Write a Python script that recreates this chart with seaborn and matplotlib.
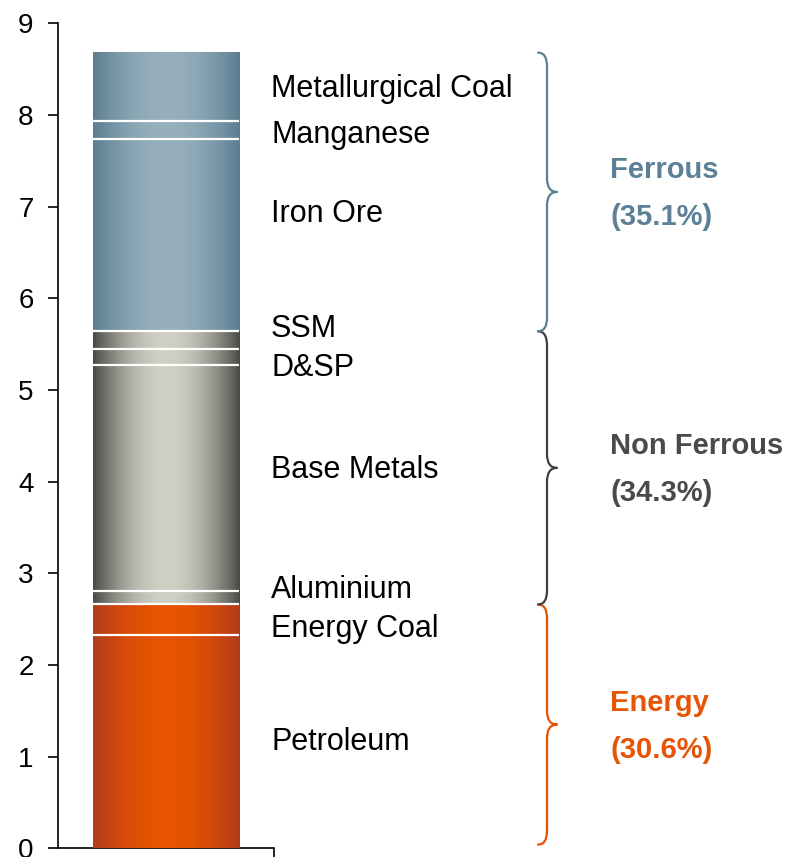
import numpy as np
import pandas as pd
import matplotlib
matplotlib.use("Agg")
import matplotlib.pyplot as plt
import matplotlib.transforms as mtransforms
from matplotlib.path import Path
from matplotlib.patches import PathPatch
import seaborn as sns

# ---------------- data ----------------
segments = ["Petroleum", "Energy Coal", "Aluminium", "Base Metals", "D&SP",
            "SSM", "Iron Ore", "Manganese", "Metallurgical Coal"]
values = [2.33, 0.33, 0.15, 2.46, 0.18, 0.19, 2.10, 0.19, 0.75]
segment_groups = ["Energy", "Energy", "Non Ferrous", "Non Ferrous", "Non Ferrous",
                  "Non Ferrous", "Ferrous", "Ferrous", "Ferrous"]
group_names = ["Energy", "Non Ferrous", "Ferrous"]
group_shares = ["(30.6%)", "(34.3%)", "(35.1%)"]
y_ticks = [0, 1, 2, 3, 4, 5, 6, 7, 8, 9]

# label baselines (positions, data units)
label_y = [1.07, 2.31, 2.73, 4.04, 5.15, 5.58, 6.83, 7.69, 8.20]

# ---------------- styles ----------------
group_edge = {"Ferrous": "#5B7D90", "Non Ferrous": "#474944", "Energy": "#B03A1C"}
group_center = {"Ferrous": "#96B0BD", "Non Ferrous": "#D0D1C5", "Energy": "#E85400"}
group_text = {"Ferrous": "#5C8096", "Non Ferrous": "#4A4A4A", "Energy": "#E65408"}
group_brace = {"Ferrous": "#5B7F95", "Non Ferrous": "#404040", "Energy": "#E65100"}

sns.set_style("white")
plt.rcParams["font.family"] = ["Liberation Sans", "DejaVu Sans"]

W, H = 802, 857
fig = plt.figure(figsize=(W / 100, H / 100), dpi=100)
ax = fig.add_axes([58 / W, 8.7 / H, 216 / W, 825 / H])

tops = np.cumsum(values)
bottoms = tops - np.array(values)

df = pd.DataFrame({"bar": ["Total"] * len(segments), "segment": segments,
                   "top": tops, "group": segment_groups})
order = list(df.sort_values("top", ascending=False)["segment"])
palette = {s: group_edge[g] for s, g in zip(segments, segment_groups)}
sns.barplot(data=df, x="bar", y="top", hue="segment", hue_order=order,
            palette=palette, dodge=False, width=0.8, legend=False,
            linewidth=0, ax=ax, zorder=2)

bar = ax.patches[0]
x0, bw = bar.get_x(), bar.get_width()

# gradient overlays
t = np.linspace(0, 1, 300)
w = np.sin(np.pi * t) ** 0.9
for s, g, b, tp in zip(segments, segment_groups, bottoms, tops):
    e = np.array(matplotlib.colors.to_rgb(group_edge[g]))
    c = np.array(matplotlib.colors.to_rgb(group_center[g]))
    img = (e[None, :] * (1 - w[:, None]) + c[None, :] * w[:, None])[None, :, :]
    ax.imshow(img, extent=[x0, x0 + bw, b, tp], aspect="auto",
              interpolation="bilinear", zorder=3)

# white separators
ax.hlines(tops[:-1], x0, x0 + bw, color="white", lw=1.6, zorder=4)

ax.set_ylim(0, 9)
ax.set_xlim(-0.593, 0.590)
ax.set_yticks(y_ticks)
ax.set_yticklabels([str(v) for v in y_ticks])
ax.set_xticks([0.590])
ax.set_xticklabels([""])
ax.set_xlabel("")
ax.set_ylabel("")
for sp in ["top", "right"]:
    ax.spines[sp].set_visible(False)
for sp in ["left", "bottom"]:
    ax.spines[sp].set_color("black")
    ax.spines[sp].set_linewidth(1.2)
ax.tick_params(axis="y", direction="out", length=7.5, width=1.2, color="black",
               labelsize=20, labelcolor="black", pad=10, left=True)
ax.tick_params(axis="x", direction="out", length=7, width=1.2, color="black",
               bottom=True)

# segment labels
tr_lab = mtransforms.blended_transform_factory(fig.transFigure, ax.transData)
for s, ly in zip(segments, label_y):
    ax.text(271 / W, ly, s, transform=tr_lab, fontsize=22, color="black",
            ha="left", va="baseline", clip_on=False)

# braces + group labels
xe, xm, xt = 538 / W, 547 / W, 557 / W
r = 0.15
for g, share in zip(group_names, group_shares):
    idx = [i for i, sg in enumerate(segment_groups) if sg == g]
    y1 = tops[idx[-1]]
    y0 = bottoms[idx[0]] + (0.04 if bottoms[idx[0]] == 0 else 0)
    m = (y0 + y1) / 2
    verts = [(xe, y1), (xm, y1), (xm, y1 - r), (xm, m + r), (xm, m), (xt, m),
             (xm, m), (xm, m - r), (xm, y0 + r), (xm, y0), (xe, y0)]
    codes = [Path.MOVETO, Path.CURVE3, Path.CURVE3, Path.LINETO, Path.CURVE3,
             Path.CURVE3, Path.CURVE3, Path.CURVE3, Path.LINETO, Path.CURVE3,
             Path.CURVE3]
    patch = PathPatch(Path(verts, codes), transform=tr_lab, fill=False,
                      edgecolor=group_brace[g], lw=1.6, clip_on=False,
                      capstyle="round", joinstyle="round")
    ax.add_patch(patch)
    ax.annotate(g, xy=(610 / W, m), xycoords=tr_lab, xytext=(0, 14),
                textcoords="offset pixels", fontsize=21, fontweight="bold",
                color=group_text[g], ha="left", va="baseline",
                annotation_clip=False)
    ax.annotate(share, xy=(610 / W, m), xycoords=tr_lab, xytext=(0, -33),
                textcoords="offset pixels", fontsize=21, fontweight="bold",
                color=group_text[g], ha="left", va="baseline",
                annotation_clip=False)

fig.savefig("out.png", dpi=100)
